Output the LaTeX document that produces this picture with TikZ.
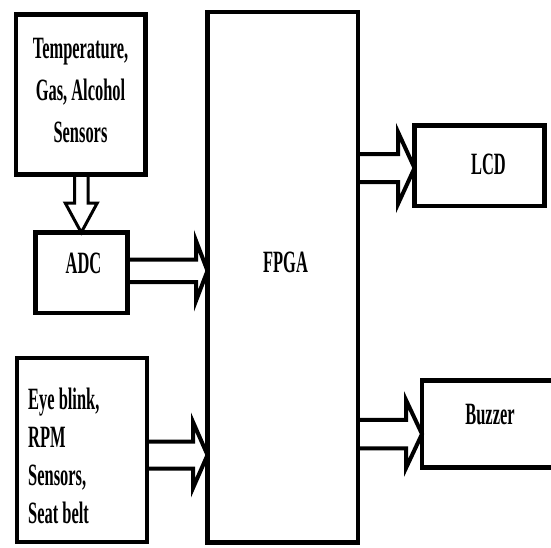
\documentclass[tikz,border=0pt]{standalone}
\usepackage{fontspec}
\setmainfont{Liberation Serif}[FakeStretch=0.53]
\usetikzlibrary{calc}
\tikzset{
  box/.style={draw=black, line width=4.5pt, inner sep=0pt, outer sep=0pt, rectangle},
  txt/.style={inner sep=0pt, font=\fontsize{31}{42}\selectfont\bfseries},
  arrowline/.style={draw=black, line width=4pt, line join=miter},
  varrowline/.style={draw=black, line width=3pt, line join=miter}
}
\newcommand{\harrowshape}[5]{%
  \draw[arrowline] let \p1=(#1), \p2=(#2) in
    (\x1,\y2+#3) -- (\x2-#5,\y2+#3) -- (\x2-#5,\y2+#4) -- (\x2,\y2)
    -- (\x2-#5,\y2-#4) -- (\x2-#5,\y2-#3) -- (\x1,\y2-#3);}
\newcommand{\varrowshape}[5]{%
  \draw[varrowline] let \p1=(#1), \p2=(#2) in
    (\x2-#3,\y1) -- (\x2-#3,\y2+#5) -- (\x2-#4,\y2+#5) -- (\x2,\y2)
    -- (\x2+#4,\y2+#5) -- (\x2+#3,\y2+#5) -- (\x2+#3,\y1);}
\begin{document}
\begin{tikzpicture}[x=1pt,y=-1pt]
  \fill[white] (0,0) rectangle (551,547);
  \useasboundingbox (0,0) rectangle (551,547);
  % boxes
  \node[box, minimum width=129.5pt, minimum height=160pt] (temp) at (80.75,94.5) {};
  \node[box, minimum width=92pt, minimum height=80.5pt] (adc) at (81.5,272.75) {};
  \node[box, minimum width=150.5pt, minimum height=530.5pt] (fpga) at (282.75,277.25) {};
  \node[box, minimum width=130pt, minimum height=80.5pt] (lcd) at (479.5,165.75) {};
  \node[box, minimum width=134pt, minimum height=87pt] (buzzer) at (489,424) {};
  \node[box, minimum width=130pt, minimum height=184pt] (eye) at (82,450) {};
  % texts
  \node[txt, align=center] (temptext) at (80.5,90) {Temperature,\\Gas, Alcohol\\Sensors};
  \node[txt] (adctext) at (83.5,263) {ADC};
  \node[txt] (fpgatext) at (285.5,262.5) {FPGA};
  \node[txt] (lcdtext) at (488.5,164) {LCD};
  \node[txt] (buzzertext) at (490,415) {Buzzer};
  \node[txt, align=left, anchor=west, font=\fontsize{31}{38}\selectfont\bfseries] (eyetext) at (28,456) {Eye blink,\\RPM\\Sensors,\\Seat belt};
  % arrow axes
  \coordinate (c1) at (0,270.75);
  \coordinate (c2) at (0,168);
  \coordinate (c3) at (0,434);
  \coordinate (c4) at (0,455);
  \coordinate (c5) at (81.25,0);
  % arrows
  \varrowshape{temp.south -| c5}{adc.north -| c5}{6.75pt}{16pt}{29.5pt}
  \harrowshape{adc.east |- c1}{fpga.west |- c1}{11.25pt}{30pt}{11.5pt}
  \harrowshape{fpga.east |- c2}{lcd.west |- c2}{14pt}{36pt}{16.5pt}
  \harrowshape{fpga.east |- c3}{buzzer.west |- c3}{14.25pt}{34pt}{16pt}
  \harrowshape{eye.east |- c4}{fpga.west |- c4}{13.5pt}{33pt}{14.5pt}
\end{tikzpicture}
\end{document}
